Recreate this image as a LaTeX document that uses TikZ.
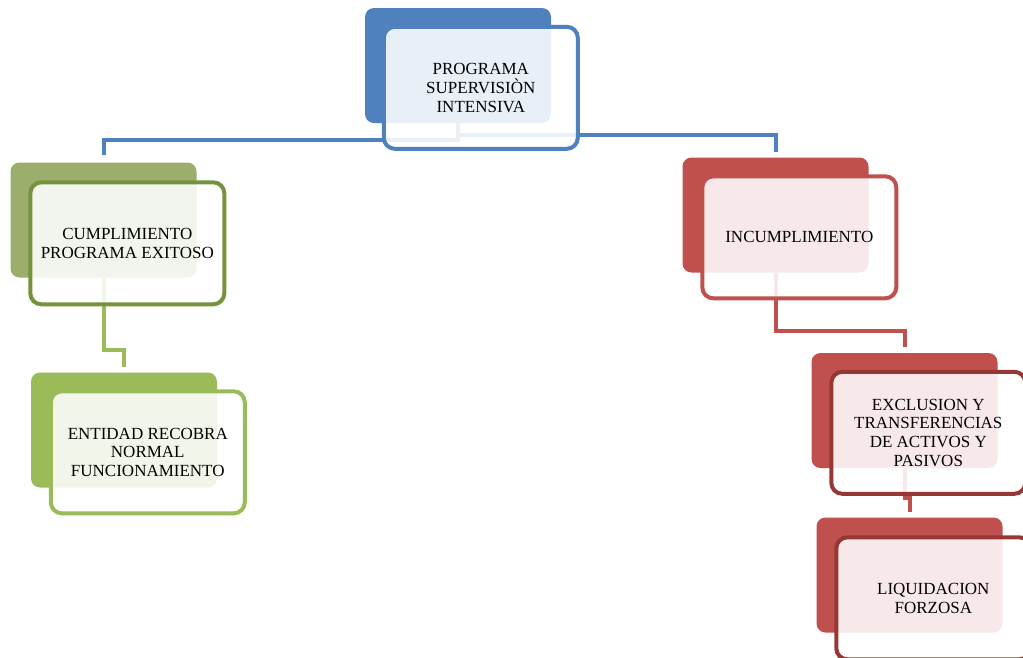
\documentclass[tikz,border=0pt]{standalone}
\usepackage{fontspec}
\setmainfont{Liberation Serif}
\usepackage{tikz}
\usetikzlibrary{positioning,calc}

\definecolor{azul}{HTML}{4F81BD}
\definecolor{verdeO}{HTML}{9BAE6B}
\definecolor{verdeB}{HTML}{76923C}
\definecolor{verde}{HTML}{9BBB59}
\definecolor{rojo}{HTML}{C0504D}
\definecolor{rojoB}{HTML}{953735}

\begin{document}
\begin{tikzpicture}[
  x=1pt, y=1pt,
  back/.style={rectangle, rounded corners=9pt, minimum width=186pt, minimum height=115pt, inner sep=0pt},
  front/.style={rectangle, draw, line width=4pt, rounded corners=11pt, fill=white, fill opacity=0.88, text opacity=1,
    minimum width=194pt, minimum height=122pt, text centered, align=center, anchor=north west,
    font=\fontsize{17}{18.8}\selectfont, text=black},
  link/.style={line width=4pt}
]
\useasboundingbox (0,0) rectangle (1023,-657);
\clip (0,0) rectangle (1023,-657);

% cajas de fondo
\node[back, fill=azul] (progB) at (458,-65.5) {};
\node[back, fill=verdeO] (cumB) at (103.5,-220) {};
\node[back, fill=verde] (entB) at (124,-430) {};
\node[back, fill=rojo] (incB) at (775.5,-215) {};
\node[back, fill=rojo] (excB) at (904.5,-410.5) {};
\node[back, fill=rojo] (liqB) at (909.5,-575) {};

% conectores
\draw[link, azul] (progB.south) |- ([yshift=22]cumB.north) -- ([yshift=7]cumB.north);
\draw[link, azul] (progB.south) |- ([yshift=22]incB.north) -- ([yshift=5]incB.north);
\draw[link, verde] (cumB.south) |- ([yshift=22]entB.north) -- ([yshift=5]entB.north);
\draw[link, rojo] (incB.south) |- ([yshift=22]excB.north) -- ([yshift=6]excB.north);
\draw[link, rojo] (excB.south) |- ([yshift=19]liqB.north) -- ([yshift=5]liqB.north);

% cajas de texto
\node[front, draw=azul] (prog) at ([shift={(17,-17)}]progB.north west) {PROGRAMA\\SUPERVISIÒN\\INTENSIVA};
\node[front, draw=verdeB] (cum) at ([shift={(18,-18)}]cumB.north west) {CUMPLIMIENTO\\PROGRAMA EXITOSO};
\node[front, draw=verde] (ent) at ([shift={(18,-17)}]entB.north west) {ENTIDAD RECOBRA\\NORMAL\\FUNCIONAMIENTO};
\node[front, draw=rojo] (inc) at ([shift={(18,-17)}]incB.north west) {INCUMPLIMIENTO};
\node[front, draw=rojoB] (exc) at ([shift={(18,-17)}]excB.north west) {EXCLUSION Y\\TRANSFERENCIAS\\DE ACTIVOS Y\\PASIVOS};
\node[front, draw=rojoB] (liq) at ([shift={(18,-18)}]liqB.north west) {LIQUIDACION\\FORZOSA};

\end{tikzpicture}
\end{document}
